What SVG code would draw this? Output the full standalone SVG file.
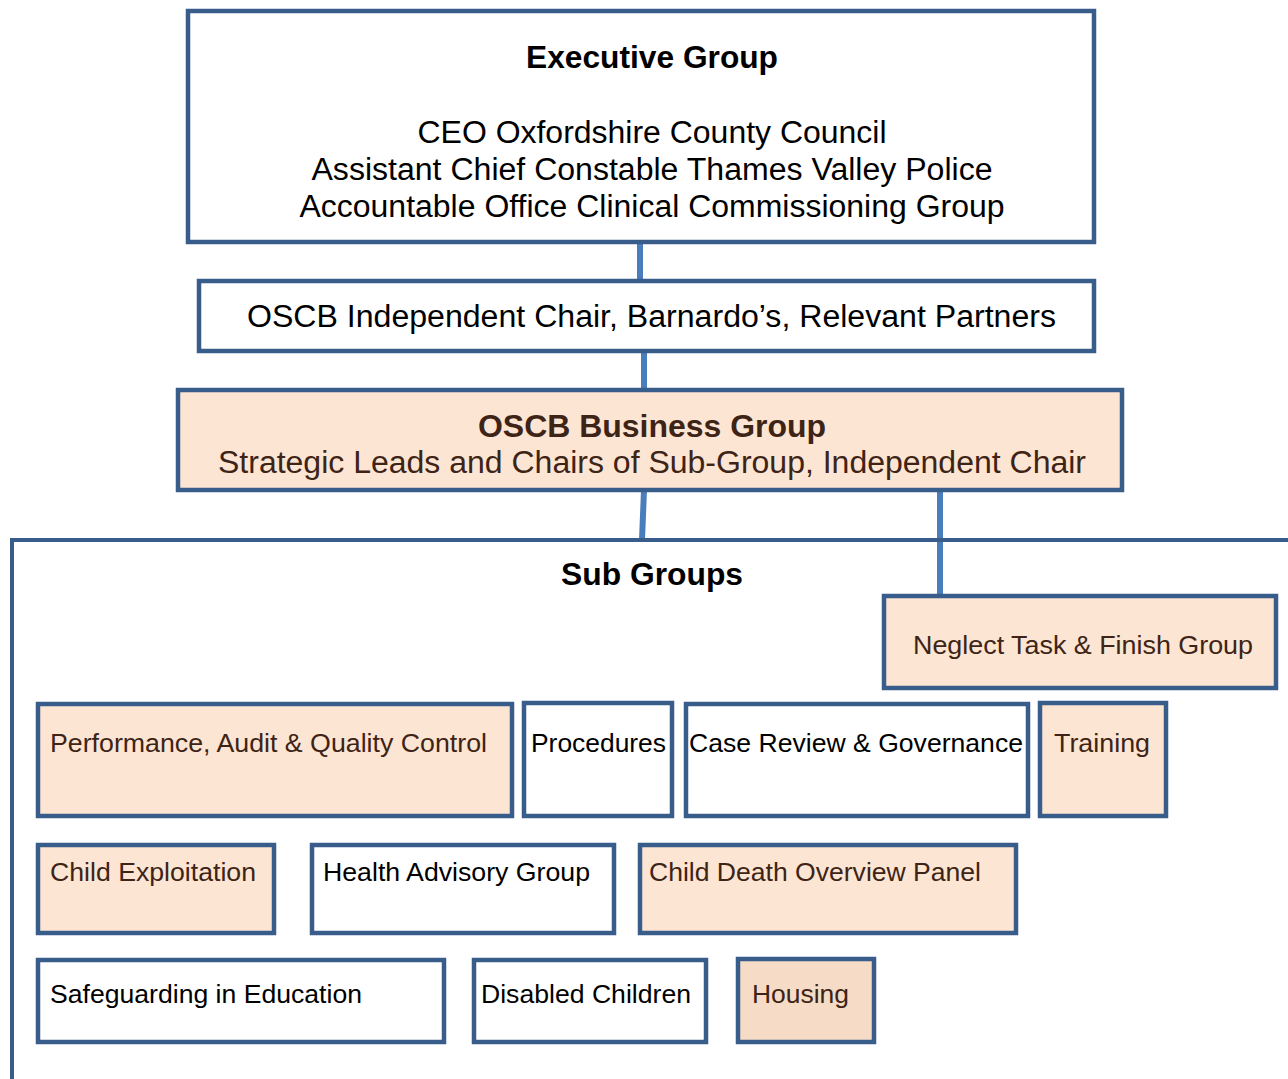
<svg xmlns="http://www.w3.org/2000/svg" width="1288" height="1079" viewBox="0 0 1288 1079">
<style>
.box{stroke:#395d8a;stroke-width:4.5;fill:#ffffff}
.peach{fill:#fde5d3}
.housing{fill:#f6dcc6}
.conn{stroke:#4a7dbb;stroke-width:6;fill:none}
.frame{stroke:#395d8a;stroke-width:4;fill:none}
text{font-family:"Liberation Sans",Arial,sans-serif;fill:#000}
.big{font-size:31px}
.bold{font-weight:bold}
.sm{font-size:26px}
.brown{fill:#3d2416}
</style>
<rect width="1288" height="1079" fill="#ffffff"/>
<g id="connectors">
<line class="conn" x1="640" y1="242" x2="640" y2="281"/>
<line class="conn" x1="644" y1="352" x2="644" y2="390"/>
<line class="conn" x1="644" y1="490" x2="642" y2="540"/>
<line class="conn" x1="940" y1="490" x2="940" y2="596"/>
</g>
<g id="subgroups-frame">
<polyline class="frame" points="12,1079 12,540 1288,540"/>
<text class="bold" x="652" y="585" text-anchor="middle" font-size="31" textLength="182" lengthAdjust="spacingAndGlyphs">Sub Groups</text>
</g>
<g id="executive">
<rect class="box" x="188" y="11" width="906" height="231"/>
<text class="big bold" x="652" y="68" text-anchor="middle" textLength="252" lengthAdjust="spacingAndGlyphs">Executive Group</text>
<text class="big" x="652" y="143" text-anchor="middle" textLength="469" lengthAdjust="spacingAndGlyphs">CEO Oxfordshire County Council</text>
<text class="big" x="652" y="180" text-anchor="middle" textLength="681" lengthAdjust="spacingAndGlyphs">Assistant Chief Constable Thames Valley Police</text>
<text class="big" x="652" y="217" text-anchor="middle" textLength="705" lengthAdjust="spacingAndGlyphs">Accountable Office Clinical Commissioning Group</text>
</g>
<g id="partners">
<rect class="box" x="199" y="281" width="895" height="70"/>
<text class="big" x="247" y="327" textLength="809" lengthAdjust="spacingAndGlyphs">OSCB Independent Chair, Barnardo’s, Relevant Partners</text>
</g>
<g id="business">
<rect class="box peach" x="178" y="390" width="944" height="100"/>
<text class="big bold brown" x="478" y="437" textLength="348" lengthAdjust="spacingAndGlyphs">OSCB Business Group</text>
<text class="big brown" x="218" y="473" textLength="868" lengthAdjust="spacingAndGlyphs">Strategic Leads and Chairs of Sub-Group, Independent Chair</text>
</g>
<g id="neglect">
<rect class="box peach" x="884" y="596" width="392" height="92"/>
<text class="sm brown" x="913" y="654" textLength="340" lengthAdjust="spacingAndGlyphs">Neglect Task &amp; Finish Group</text>
</g>
<g id="performance">
<rect class="box peach" x="38" y="704" width="474" height="112"/>
<text class="sm brown" x="50" y="752" textLength="437" lengthAdjust="spacingAndGlyphs">Performance, Audit &amp; Quality Control</text>
</g>
<g id="procedures">
<rect class="box" x="524" y="703" width="148" height="113"/>
<text class="sm" x="531" y="752" textLength="135" lengthAdjust="spacingAndGlyphs">Procedures</text>
</g>
<g id="case-review">
<rect class="box" x="686" y="704" width="342" height="112"/>
<text class="sm" x="689" y="752" textLength="334" lengthAdjust="spacingAndGlyphs">Case Review &amp; Governance</text>
</g>
<g id="training">
<rect class="box peach" x="1040" y="703" width="126" height="113"/>
<text class="sm brown" x="1054" y="752" textLength="96" lengthAdjust="spacingAndGlyphs">Training</text>
</g>
<g id="child-exploitation">
<rect class="box peach" x="38" y="845" width="236" height="88"/>
<text class="sm brown" x="50" y="881" textLength="206" lengthAdjust="spacingAndGlyphs">Child Exploitation</text>
</g>
<g id="health-advisory">
<rect class="box" x="312" y="845" width="302" height="88"/>
<text class="sm" x="323" y="881" textLength="267" lengthAdjust="spacingAndGlyphs">Health Advisory Group</text>
</g>
<g id="child-death">
<rect class="box peach" x="640" y="845" width="376" height="88"/>
<text class="sm brown" x="649" y="881" textLength="332" lengthAdjust="spacingAndGlyphs">Child Death Overview Panel</text>
</g>
<g id="safeguarding-education">
<rect class="box" x="38" y="960" width="406" height="82"/>
<text class="sm" x="50" y="1003" textLength="312" lengthAdjust="spacingAndGlyphs">Safeguarding in Education</text>
</g>
<g id="disabled-children">
<rect class="box" x="474" y="960" width="232" height="82"/>
<text class="sm" x="481" y="1003" textLength="210" lengthAdjust="spacingAndGlyphs">Disabled Children</text>
</g>
<g id="housing">
<rect class="box housing" x="738" y="959" width="136" height="83"/>
<text class="sm brown" x="752" y="1003" textLength="97" lengthAdjust="spacingAndGlyphs">Housing</text>
</g>
</svg>
